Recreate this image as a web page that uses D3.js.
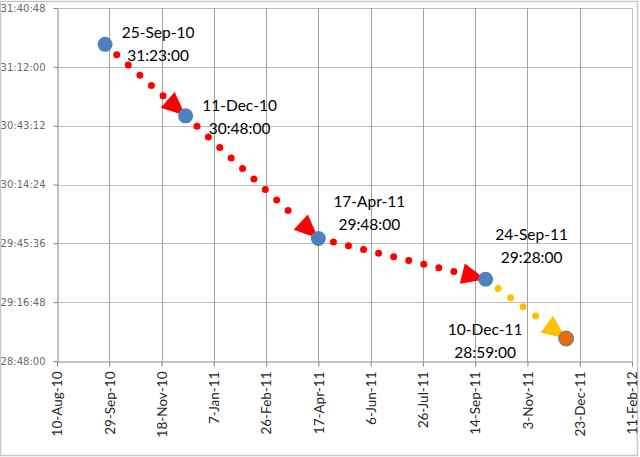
<!DOCTYPE html>
<html>
<head>
<meta charset="utf-8">
<script src="https://cdn.jsdelivr.net/npm/d3@7"></script>
<style>
  body { margin: 0; background: #fff; }
</style>
</head>
<body>
<div id="chart"></div>
<script>
// data
const pointDates = ["25-Sep-10", "11-Dec-10", "17-Apr-11", "24-Sep-11", "10-Dec-11"];
const pointTimes = ["31:23:00", "30:48:00", "29:48:00", "29:28:00", "28:59:00"];
const pointColors = ["#4f81bd", "#4f81bd", "#4f81bd", "#4f81bd", "#e46c0a"];
const segmentColors = ["#ff0000", "#ff0000", "#ff0000", "#ffc000"];

const xTickLabels = ["10-Aug-10", "29-Sep-10", "18-Nov-10", "7-Jan-11", "26-Feb-11", "17-Apr-11",
  "6-Jun-11", "26-Jul-11", "14-Sep-11", "3-Nov-11", "23-Dec-11", "11-Feb-12"];
const yTickLabels = ["28:48:00", "29:16:48", "29:45:36", "30:14:24", "30:43:12", "31:12:00", "31:40:48"];

// where each data label sits, relative to its point
const labelOffsets = [[53, -6], [54, -5], [51, -31], [46, -39], [-81, -4]];

const W = 640, H = 457;
const parseDate = d3.timeParse("%d-%b-%y");
const toSec = function (s) {
  const p = s.split(":").map(Number);
  return p[0] * 3600 + p[1] * 60 + p[2];
};

const xDates = xTickLabels.map(parseDate);
const ySecs = yTickLabels.map(toSec);

const x = d3.scaleTime()
  .domain([xDates[0], xDates[xDates.length - 1]])
  .range([57, 632]);
const y = d3.scaleLinear()
  .domain([ySecs[0], ySecs[ySecs.length - 1]])
  .range([361, 8]);

const svg = d3.select("#chart").append("svg")
  .attr("width", W)
  .attr("height", H);

// outer border
svg.append("rect")
  .attr("x", 0.5).attr("y", 1.5)
  .attr("width", 637).attr("height", 454)
  .attr("fill", "#fff")
  .attr("stroke", "#c8c8c8")
  .attr("stroke-width", 1.5);

// gridlines
svg.append("g").selectAll("line")
  .data(ySecs.slice(1))
  .enter().append("line")
  .attr("x1", 57).attr("x2", 632)
  .attr("y1", d => Math.round(y(d)) + 0.5)
  .attr("y2", d => Math.round(y(d)) + 0.5)
  .attr("stroke", "#bdbdbd");

svg.append("g").selectAll("line")
  .data(xDates.slice(1))
  .enter().append("line")
  .attr("y1", 8).attr("y2", 361)
  .attr("x1", d => Math.round(x(d)) + 0.5)
  .attr("x2", d => Math.round(x(d)) + 0.5)
  .attr("stroke", d => d === xDates[xDates.length - 1] ? "#c4c4c4" : "#a3a3a3");

// axes
const xAxis = svg.append("g")
  .attr("transform", "translate(0,361.5)")
  .call(d3.axisBottom(x).tickValues(xDates).tickSize(5).tickSizeOuter(0)
    .tickFormat((d, i) => xTickLabels[i]));
xAxis.select(".domain").attr("stroke", "#868686");
xAxis.selectAll(".tick line").attr("stroke", "#868686");
xAxis.selectAll("text")
  .attr("transform", "rotate(-90)")
  .attr("x", -10)
  .attr("y", 0)
  .attr("dy", "0.35em")
  .style("text-anchor", "end")
  .style("font-family", "Lato, 'Open Sans', sans-serif")
  .style("font-size", "13.5px")
  .attr("fill", "#262626");

const yAxis = svg.append("g")
  .attr("transform", "translate(57.5,0)")
  .call(d3.axisLeft(y).tickValues(ySecs).tickSize(4).tickSizeOuter(0)
    .tickFormat((d, i) => yTickLabels[i]));
yAxis.select(".domain").attr("stroke", "#868686");
yAxis.selectAll(".tick line").attr("stroke", "#868686");
yAxis.selectAll("text")
  .attr("x", -12)
  .style("font-family", "'DejaVu Sans', sans-serif")
  .style("font-size", "10px")
  .attr("fill", "#6a6a6a");

// points in pixels
const pts = pointDates.map((d, i) => [x(parseDate(d)), y(toSec(pointTimes[i]))]);

// dotted segments with arrowheads
const arrowLen = 24, arrowHalf = 10.5;
for (let i = 0; i < pts.length - 1; i++) {
  const a = pts[i], b = pts[i + 1];
  const dx = b[0] - a[0], dy = b[1] - a[1];
  const len = Math.sqrt(dx * dx + dy * dy);
  const ux = dx / len, uy = dy / len;
  const bx = b[0] - ux * arrowLen, by = b[1] - uy * arrowLen;
  svg.append("line")
    .attr("x1", a[0]).attr("y1", a[1])
    .attr("x2", bx - ux * 4).attr("y2", by - uy * 4)
    .attr("stroke", segmentColors[i])
    .attr("stroke-width", 7)
    .attr("stroke-linecap", "round")
    .attr("stroke-dasharray", "0 15.5");
  svg.append("polygon")
    .attr("points", [
      [b[0], b[1]],
      [bx - uy * arrowHalf, by + ux * arrowHalf],
      [bx + uy * arrowHalf, by - ux * arrowHalf]
    ].map(p => p.join(",")).join(" "))
    .attr("fill", segmentColors[i]);
}

// markers
svg.append("g").selectAll("circle")
  .data(pts)
  .enter().append("circle")
  .attr("cx", d => d[0])
  .attr("cy", d => d[1])
  .attr("r", 7.5)
  .attr("fill", (d, i) => pointColors[i])
  .attr("stroke", "#4f81bd")
  .attr("stroke-width", (d, i) => pointColors[i] === "#4f81bd" ? 0 : 1);

// data labels
const lbl = svg.append("g")
  .style("font-family", "Lato, 'Open Sans', sans-serif")
  .style("font-size", "15.5px")
  .attr("fill", "#000")
  .attr("text-anchor", "middle");
pts.forEach(function (p, i) {
  const o = labelOffsets[i];
  lbl.append("text").attr("x", p[0] + o[0]).attr("y", p[1] + o[1]).text(pointDates[i]);
  lbl.append("text").attr("x", p[0] + o[0]).attr("y", p[1] + o[1] + 23).text(pointTimes[i]);
});
</script>
</body>
</html>
